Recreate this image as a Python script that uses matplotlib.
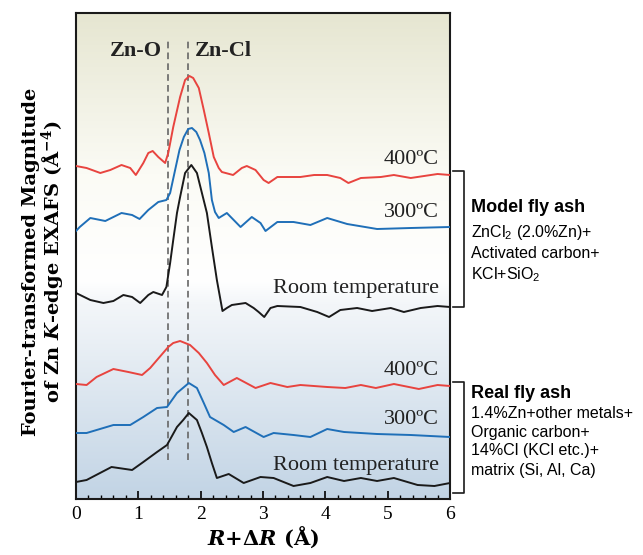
import numpy as np
import matplotlib
matplotlib.use("Agg")
import matplotlib.pyplot as plt
from matplotlib.colors import LinearSegmentedColormap
from matplotlib.ticker import MultipleLocator

plt.rcParams['mathtext.fontset'] = 'custom'
plt.rcParams['mathtext.rm'] = 'Liberation Sans'
plt.rcParams['mathtext.it'] = 'DejaVu Serif:italic:bold'
plt.rcParams['mathtext.bf'] = 'DejaVu Serif:bold'

# FT magnitude curves (arbitrary units, offsets included)
model_400_r = [0, 0.17, 0.39, 0.55, 0.73, 0.87, 0.96, 1.08, 1.16, 1.23, 1.32, 1.43, 1.48, 1.56,
               1.67, 1.75, 1.82, 1.88, 1.97, 2.05, 2.13, 2.21, 2.29, 2.34, 2.52, 2.66, 2.74,
               2.88, 3.01, 3.09, 3.23, 3.60, 3.82, 4.03, 4.24, 4.37, 4.57, 4.89, 5.10, 5.37,
               5.80, 6.0]
model_400_y = [333, 331, 326, 329, 334, 331, 324, 336, 346, 348, 342, 336, 346, 372,
               402, 419, 423, 421, 411, 389, 366, 342, 331, 327, 324, 331, 333,
               329, 319, 316, 322, 322, 324, 324, 321, 316, 321, 322, 324, 321,
               325, 324]

model_300_r = [0, 0.06, 0.23, 0.47, 0.73, 0.90, 1.02, 1.16, 1.32, 1.45, 1.51, 1.59, 1.66, 1.73,
               1.80, 1.86, 1.93, 1.99, 2.06, 2.13, 2.18, 2.23, 2.29, 2.42, 2.53, 2.64, 2.82,
               2.96, 3.04, 3.23, 3.49, 3.76, 4.03, 4.35, 4.83, 5.37, 6.0]
model_300_y = [268, 272, 281, 278, 286, 284, 280, 289, 297, 299, 306, 329, 349, 362,
               370, 371, 367, 359, 346, 326, 299, 287, 281, 286, 279, 272, 282,
               276, 268, 277, 277, 274, 281, 275, 270, 271, 272]

model_rt_r = [0, 0.23, 0.44, 0.60, 0.76, 0.90, 1.03, 1.16, 1.24, 1.38, 1.45, 1.51, 1.56, 1.62,
              1.67, 1.75, 1.85, 1.94, 2.02, 2.10, 2.18, 2.26, 2.35, 2.42, 2.50, 2.72, 2.85,
              2.93, 3.02, 3.12, 3.23, 3.60, 3.87, 4.06, 4.24, 4.51, 4.75, 5.05, 5.26, 5.53,
              5.80, 6.0]
model_rt_y = [206, 199, 196, 198, 204, 202, 196, 204, 207, 204, 212, 236, 259, 286,
              302, 326, 334, 326, 306, 286, 252, 219, 188, 191, 194, 196, 191,
              187, 182, 191, 193, 192, 187, 182, 189, 191, 188, 191, 187, 191,
              193, 192]

real_400_r = [0, 0.17, 0.33, 0.60, 0.84, 1.06, 1.19, 1.30, 1.48, 1.56, 1.67, 1.83, 1.97, 2.10,
              2.23, 2.37, 2.58, 2.88, 3.12, 3.39, 3.60, 4.03, 4.32, 4.57, 4.81, 5.10, 5.50,
              5.80, 6.0]
real_400_y = [115, 114, 122, 130, 127, 124, 131, 139, 152, 156, 158, 154, 146, 136,
              124, 114, 121, 111, 116, 112, 114, 112, 111, 114, 111, 115, 110,
              114, 113]

real_300_r = [0, 0.17, 0.60, 0.87, 1.08, 1.30, 1.46, 1.62, 1.81, 1.94, 2.05, 2.15, 2.37, 2.53,
              2.72, 3.01, 3.17, 3.49, 3.76, 4.03, 4.30, 4.83, 5.37, 6.0]
real_300_y = [66, 66, 74, 74, 82, 91, 92, 106, 116, 111, 96, 82, 74, 67,
              72, 62, 66, 64, 62, 70, 67, 65, 64, 62]

real_rt_r = [0, 0.17, 0.57, 0.90, 1.08, 1.30, 1.46, 1.62, 1.72, 1.81, 1.94, 2.02, 2.10, 2.18,
             2.26, 2.45, 2.69, 2.96, 3.17, 3.49, 3.76, 4.03, 4.30, 4.57, 4.83, 5.10, 5.48,
             5.75, 6.0]
real_rt_y = [17, 19, 32, 29, 37, 47, 54, 72, 79, 86, 79, 66, 52, 36,
             21, 25, 16, 22, 21, 13, 16, 22, 18, 21, 18, 21, 14,
             13, 16]

bond_names = ['Zn-O', 'Zn-Cl']
bond_r = [1.47, 1.80]

curve_labels = ['400ºC', '300ºC', 'Room temperature']
model_text = ['ZnCl$_2$ (2.0%Zn)+', 'Activated carbon+', 'KCl+SiO$_2$']
real_text = ['1.4%Zn+other metals+', 'Organic carbon+', '14%Cl (KCl etc.)+', 'matrix (Si, Al, Ca)']

RED, BLUE, BLACK = '#e8443f', '#1f6fb8', '#1a1a1a'

fig = plt.figure(figsize=(6.43, 5.55), dpi=100)
ax = fig.add_axes([76 / 643, 56 / 555, 374 / 643, 486 / 555])

# background gradient: pale olive at top, white in the middle, light blue at bottom
bg = LinearSegmentedColormap.from_list('bg', [
    (0.0, '#e6e6d1'), (0.33, '#fbfbf5'), (0.55, '#ffffff'), (0.6, '#f3f6f9'), (1.0, '#c2d4e5')])
ax.imshow(np.linspace(0, 1, 256).reshape(-1, 1), cmap=bg, aspect='auto',
          extent=(0, 6, 0, 486), origin='upper', zorder=0)

for r, y, c in [(model_400_r, model_400_y, RED), (model_300_r, model_300_y, BLUE),
                (model_rt_r, model_rt_y, BLACK), (real_400_r, real_400_y, RED),
                (real_300_r, real_300_y, BLUE), (real_rt_r, real_rt_y, BLACK)]:
    ax.plot(r, y, color=c, lw=1.4, solid_joinstyle='round', zorder=3)

ax.vlines(bond_r, 39, 459, colors='#666666', linestyles=(0, (4, 2.5)), lw=1.2, zorder=2)
ax.text(bond_r[0] - 0.09, 443, bond_names[0], ha='right', va='baseline',
        family='Liberation Serif', fontweight='bold', fontsize=16, color='#222222')
ax.text(bond_r[1] + 0.1, 443, bond_names[1], ha='left', va='baseline',
        family='Liberation Serif', fontweight='bold', fontsize=16, color='#222222')

for lab, yb in zip(curve_labels * 2, [335, 282, 206, 124, 75, 29]):
    ax.text(5.82, yb, lab, ha='right', va='baseline', family='Liberation Serif',
            fontsize=16, color='#222222')

ax.set_xlim(0, 6)
ax.set_ylim(0, 486)
ax.set_yticks([])
ax.xaxis.set_major_locator(MultipleLocator(1))
ax.xaxis.set_minor_locator(MultipleLocator(0.2))
ax.tick_params(axis='x', which='major', direction='in', length=6, width=1.2,
               labelsize=14, pad=5)
ax.tick_params(axis='x', which='minor', direction='in', length=3, width=1)
for lab in ax.get_xticklabels():
    lab.set_family('Liberation Serif')
for s in ax.spines.values():
    s.set_linewidth(1.5)
    s.set_color('#1a1a1a')

ax.set_xlabel('$R$+Δ$R$ (Å)', family='DejaVu Serif', fontweight='bold',
              fontsize=15, labelpad=1)

fig.text(31 / 643, 1 - 262 / 555, 'Fourier-transformed Magnitude', rotation=90,
         ha='center', va='center', family='DejaVu Serif', fontweight='bold', fontsize=14)
fig.text(53 / 643, 1 - 262 / 555, 'of Zn $K$-edge EXAFS (Å$^{\\mathbf{-4}}$)', rotation=90,
         ha='center', va='center', family='DejaVu Serif', fontweight='bold', fontsize=14)

# brackets grouping the two sample sets
for y0, y1 in [(0.675, 0.395), (0.241, 0.012)]:
    ax.plot([1.008, 1.037, 1.037, 1.008], [y0, y0, y1, y1], transform=ax.transAxes,
            color='#1a1a1a', lw=1.2, clip_on=False)

fig.text(471 / 643, 1 - 208 / 555, 'Model fly ash', ha='left', va='center',
         family='Liberation Sans', fontweight='bold', fontsize=13)
for t, py in zip(model_text, [232, 253, 275]):
    fig.text(471 / 643, 1 - py / 555, t, ha='left', va='center',
             family='Liberation Sans', fontsize=11.5)
fig.text(471 / 643, 1 - 393 / 555, 'Real fly ash', ha='left', va='center',
         family='Liberation Sans', fontweight='bold', fontsize=13)
for t, py in zip(real_text, [413, 432, 451, 470]):
    fig.text(471 / 643, 1 - py / 555, t, ha='left', va='center',
             family='Liberation Sans', fontsize=11.5)

fig.savefig('out.png', dpi=100)
